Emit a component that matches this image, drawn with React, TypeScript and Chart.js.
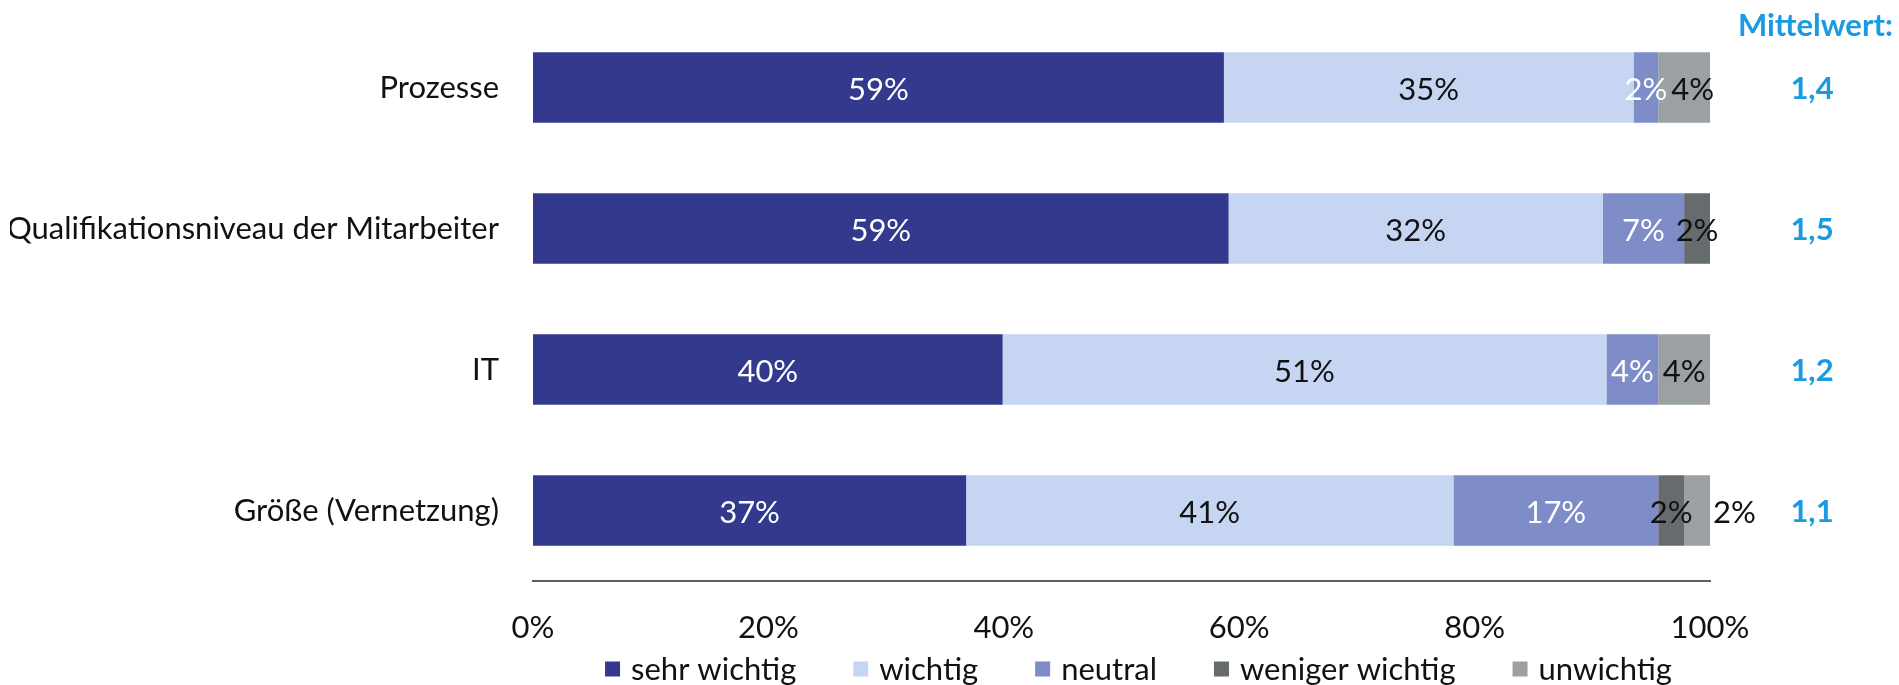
import React, { useEffect, useRef } from "react";
import { Chart, registerables } from "chart.js";

Chart.register(...registerables);

const categories = ["Prozesse", "Qualifikationsniveau der Mitarbeiter", "IT", "Größe (Vernetzung)"];
const seriesNames = ["sehr wichtig", "wichtig", "neutral", "weniger wichtig", "unwichtig"];
const sehrWichtig = [58.7, 59.1, 39.9, 36.8];
const wichtig = [34.8, 31.8, 51.3, 41.4];
const neutral = [2.1, 6.9, 4.4, 17.4];
const wenigerWichtig = [0, 2.2, 0, 2.2];
const unwichtig = [4.4, 0, 4.4, 2.2];
const mittelwert = [1.4, 1.5, 1.2, 1.1];
const xTickValues = [0, 20, 40, 60, 80, 100];
const mittelwertTitle = "Mittelwert:";

const seriesValues = [sehrWichtig, wichtig, neutral, wenigerWichtig, unwichtig];
const seriesColors = ["#333A8E", "#C5D5F2", "#7E8CC8", "#666B6E", "#9AA0A3"];
const labelColors = ["#FFFFFF", "#111111", "#FFFFFF", "#111111", "#111111"];
const FONT = "Lato, 'Open Sans', sans-serif";
const FS = 31;
const BLUE = "#1A9AE0";

const overlayPlugin = {
  id: "overlay",
  afterDatasetsDraw(chart: any) {
    const ctx = chart.ctx;
    const ca = chart.chartArea;
    const yScale = chart.scales.y;
    const nDs = chart.data.datasets.length;
    ctx.save();
    ctx.font = `${FS}px ${FONT}`;
    ctx.textBaseline = "middle";
    ctx.textAlign = "left";
    // data labels
    for (let i = 0; i < categories.length; i++) {
      let prevRight = -Infinity;
      chart.data.datasets.forEach((ds: any, di: number) => {
        const v = ds.data[i];
        if (!v) return;
        const el = chart.getDatasetMeta(di).data[i];
        const cx = (el.x + el.base) / 2;
        const segW = Math.abs(el.x - el.base);
        const text = Math.round(v) + "%";
        const w = ctx.measureText(text).width;
        let left = cx - w / 2;
        if (di === nDs - 1 && w > segW) {
          left = el.x + 3;
        } else if (left < prevRight + 4) {
          left = prevRight + 4;
        }
        ctx.fillStyle = labelColors[di];
        ctx.fillText(text, left, el.y + 2);
        prevRight = left + w;
      });
    }
    // Mittelwert column
    ctx.font = `bold ${FS}px ${FONT}`;
    ctx.fillStyle = BLUE;
    ctx.textAlign = "right";
    ctx.fillText(mittelwertTitle, chart.width - 6, 26);
    ctx.textAlign = "center";
    mittelwert.forEach((m, i) => {
      const y = yScale.getPixelForValue(i);
      ctx.fillText(m.toFixed(1).replace(".", ","), 1812, y + 1);
    });
    // legend
    ctx.font = `${FS}px ${FONT}`;
    ctx.textAlign = "left";
    const box = 15;
    const gapBox = 11;
    const gapItem = 57;
    const widths = seriesNames.map((n) => box + gapBox + ctx.measureText(n).width);
    const total = widths.reduce((a, b) => a + b, 0) + gapItem * (seriesNames.length - 1);
    let x = (ca.left + ca.right) / 2 + 17 - total / 2;
    const ly = 669;
    seriesNames.forEach((n, i) => {
      ctx.fillStyle = seriesColors[i];
      ctx.fillRect(x, ly - box / 2, box, box);
      ctx.fillStyle = "#111111";
      ctx.fillText(n, x + box + gapBox, ly + 1);
      x += widths[i] + gapItem;
    });
    ctx.restore();
  },
};

export default function App() {
  const ref = useRef<HTMLCanvasElement | null>(null);
  useEffect(() => {
    document.body.style.margin = "0";
    const canvas = ref.current;
    if (!canvas) return;
    const chart = new Chart(canvas, {
      type: "bar",
      data: {
        labels: categories,
        datasets: seriesNames.map((name, i) => ({
          label: name,
          data: seriesValues[i],
          backgroundColor: seriesColors[i],
          borderWidth: 0,
          barPercentage: 0.5,
          categoryPercentage: 1,
        })),
      },
      options: {
        indexAxis: "y",
        animation: false,
        responsive: true,
        maintainAspectRatio: false,
        layout: { padding: { left: 10, right: 189, top: 17, bottom: 0 } },
        plugins: { legend: { display: false }, tooltip: { enabled: false } },
        scales: {
          x: {
            stacked: true,
            min: 0,
            max: 100,
            afterBuildTicks: (scale: any) => {
              scale.ticks = xTickValues.map((v) => ({ value: v }));
            },
            grid: { display: false, drawTicks: false },
            border: { display: true, color: "#5F5F5F", width: 2 },
            ticks: {
              color: "#111111",
              font: { family: FONT, size: FS },
              padding: 28,
              maxRotation: 0,
              autoSkip: false,
              callback: (v: any) => v + "%",
            },
            afterFit: (scale: any) => {
              scale.height = 104;
              scale.paddingLeft = 0;
              scale.paddingRight = 0;
            },
          },
          y: {
            stacked: true,
            grid: { display: false, drawTicks: false },
            border: { display: false },
            ticks: {
              color: "#111111",
              font: { family: FONT, size: FS },
              padding: 34,
            },
            afterFit: (scale: any) => {
              scale.width = 523;
              scale.paddingTop = 0;
              scale.paddingBottom = 0;
            },
          },
        },
      },
      plugins: [overlayPlugin],
    } as any);
    return () => chart.destroy();
  }, []);
  return (
    <div style={{ position: "relative", width: "1899px", height: "685px", background: "#fff" }}>
      <canvas ref={ref} />
    </div>
  );
}
